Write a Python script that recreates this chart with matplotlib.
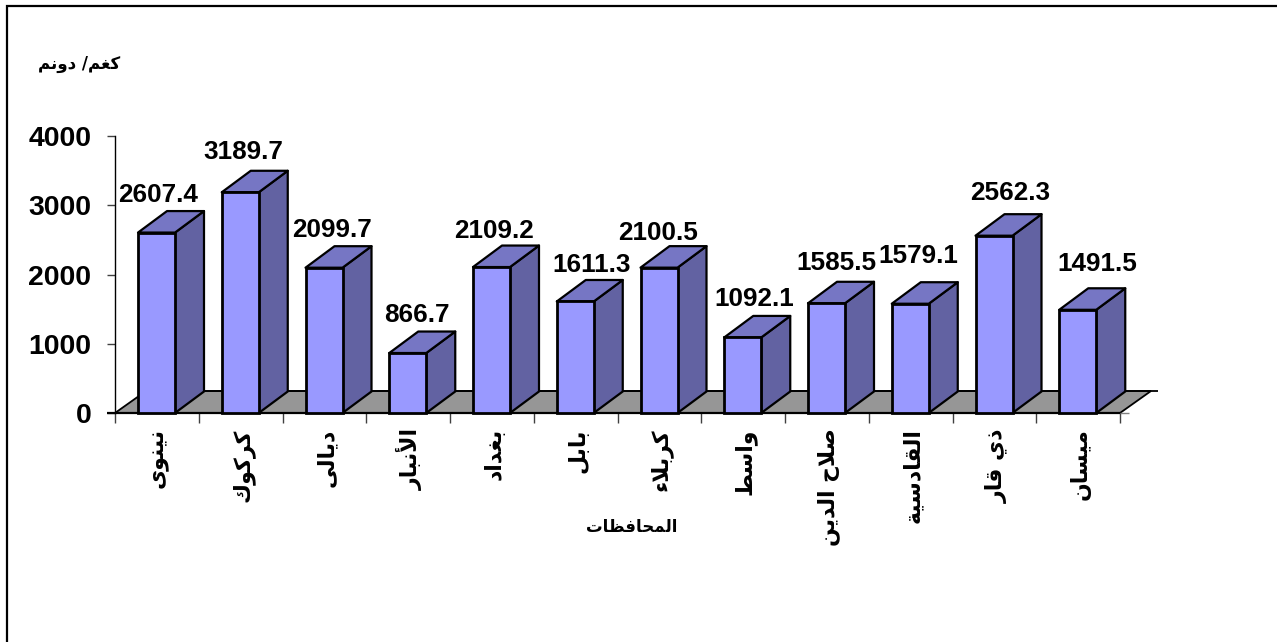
import matplotlib
matplotlib.use("Agg")
import matplotlib.pyplot as plt
from matplotlib.patches import Polygon, Rectangle

# ---- data ----
provinces = ["نينوى", "كركوك", "ديالى", "الأنبار", "بغداد", "بابل",
             "كربلاء", "واسط", "صلاح الدين", "القادسية", "ذي قار", "ميسان"]
yields = [2607.4, 3189.7, 2099.7, 866.7, 2109.2, 1611.3,
          2100.5, 1092.1, 1585.5, 1579.1, 2562.3, 1491.5]
y_ticks = [0, 1000, 2000, 3000, 4000]
unit_label = "كغم/ دونم"
x_title = "المحافظات"

# hand placement of the data labels relative to each bar (px)
label_dx = [2, 3, 8, 9, 3, 16, -1, 11, 10, 8, 16, 20]
label_dy = [38, 40, 38, 38, 36, 36.5, 35, 38, 40, 48, 43, 46]

# ---- Arabic shaping (matplotlib has no bidi / joining) ----
FORMS = {'ء': (0xFE80, 1), 'آ': (0xFE81, 2), 'أ': (0xFE83, 2), 'إ': (0xFE87, 2),
         'ا': (0xFE8D, 2), 'ب': (0xFE8F, 4), 'ة': (0xFE93, 2), 'ت': (0xFE95, 4),
         'ث': (0xFE99, 4), 'ج': (0xFE9D, 4), 'ح': (0xFEA1, 4), 'خ': (0xFEA5, 4),
         'د': (0xFEA9, 2), 'ذ': (0xFEAB, 2), 'ر': (0xFEAD, 2), 'ز': (0xFEAF, 2),
         'س': (0xFEB1, 4), 'ش': (0xFEB5, 4), 'ص': (0xFEB9, 4), 'ض': (0xFEBD, 4),
         'ط': (0xFEC1, 4), 'ظ': (0xFEC5, 4), 'ع': (0xFEC9, 4), 'غ': (0xFECD, 4),
         'ف': (0xFED1, 4), 'ق': (0xFED5, 4), 'ك': (0xFED9, 4), 'ل': (0xFEDD, 4),
         'م': (0xFEE1, 4), 'ن': (0xFEE5, 4), 'ه': (0xFEE9, 4), 'و': (0xFEED, 2),
         'ى': (0xFEEF, 2), 'ي': (0xFEF1, 4)}
LAM_ALEF = {'ا': 0xFEFB, 'أ': 0xFEF7, 'إ': 0xFEF9, 'آ': 0xFEF5}


def shape(text):
    out = []
    i = 0
    prev_joins = False
    while i < len(text):
        c = text[i]
        if c not in FORMS:
            out.append(c)
            prev_joins = False
            i += 1
            continue
        if c == 'ل' and i + 1 < len(text) and text[i + 1] in LAM_ALEF:
            out.append(chr(LAM_ALEF[text[i + 1]] + (1 if prev_joins else 0)))
            prev_joins = False
            i += 2
            continue
        base, n = FORMS[c]
        nxt = text[i + 1] if i + 1 < len(text) else ''
        next_joins = n == 4 and nxt in FORMS
        if n == 1:
            g = base
        elif n == 2:
            g = base + (1 if prev_joins else 0)
        elif prev_joins and next_joins:
            g = base + 3
        elif prev_joins:
            g = base + 1
        elif next_joins:
            g = base + 2
        else:
            g = base
        out.append(chr(g))
        prev_joins = n == 4
        i += 1
    return ''.join(reversed(out))


# ---- layout ----
W, H = 1277, 642
X0, X1, Y0, Y4 = 115, 1120, 413, 136.2
fig = plt.figure(figsize=(W / 100, H / 100), dpi=100, facecolor='white')
ax = fig.add_axes([X0 / W, 1 - Y0 / H, (X1 - X0) / W, (Y0 - Y4) / H])
ax.set_xlim(0, len(provinces))
ax.set_ylim(0, 4000)
ax.patch.set_visible(False)
for s in ('top', 'right', 'bottom'):
    ax.spines[s].set_visible(False)
ax.spines['left'].set_linewidth(1.0)

cat_px = (X1 - X0) / len(provinces)
val_px = (Y0 - Y4) / 4000
bar_l, bar_w = 23 / cat_px, 37 / cat_px
dep_x, dep_y = 29 / cat_px, 21.5 / val_px
floor_x, floor_y = 31 / cat_px, 22 / val_px

FRONT, SIDE, TOP, FLOOR = '#9999FF', '#6262A2', '#7676C4', '#969696'
LW = 1.6

# floor
ax.add_patch(Polygon([(0, 0), (12, 0), (12 + floor_x, floor_y), (floor_x, floor_y)],
                     closed=True, fc=FLOOR, ec='black', lw=1.3, clip_on=False, zorder=1))
ax.plot([floor_x, 12 + 38 / cat_px], [floor_y, floor_y], color='black', lw=1.3,
        clip_on=False, zorder=1, solid_capstyle='butt')
ax.plot([12, 12 + 9 / cat_px], [0, 0], color='#808080', lw=1.0, clip_on=False, zorder=1,
        solid_capstyle='butt')
ax.plot([-8 / cat_px, 12], [0, 0], color='black', lw=1.6, clip_on=False, zorder=2,
        solid_capstyle='butt')

# bars
for i, v in enumerate(yields):
    l = i + bar_l
    r = l + bar_w
    ax.add_patch(Polygon([(r, 0), (r + dep_x, dep_y), (r + dep_x, v + dep_y), (r, v)],
                         closed=True, fc=SIDE, ec='black', lw=LW, joinstyle='round', zorder=3, clip_on=False))
    ax.add_patch(Polygon([(l, v), (r, v), (r + dep_x, v + dep_y), (l + dep_x, v + dep_y)],
                         closed=True, fc=TOP, ec='black', lw=LW, joinstyle='round', zorder=3, clip_on=False))
    ax.add_patch(Rectangle((l, 0), bar_w, v, fc=FRONT, ec='black', lw=LW + 0.4, zorder=4, clip_on=False))
    ax.annotate(f"{v:.1f}", xy=(l + bar_w / 2, v),
                xytext=(label_dx[i] * 0.72, label_dy[i] * 0.72), textcoords='offset points',
                ha='center', va='center', fontsize=18.8, fontweight='bold',
                family='Liberation Sans', zorder=6, annotation_clip=False)

# axes
ax.set_yticks(y_ticks)
ax.set_yticklabels([str(t) for t in y_ticks], fontsize=20.4, fontweight='bold',
                   family='Liberation Sans')
ax.tick_params(axis='y', length=6, width=1.0, pad=11, color='#404040')
ax.set_xticks(range(len(provinces) + 1))
ax.set_xticklabels([''] * (len(provinces) + 1))
ax.tick_params(axis='x', length=7, width=1.0, color='#404040')

for i, name in enumerate(provinces):
    ax.annotate(shape(name), xy=(i + 0.5, 0), xytext=(1.5, -11), textcoords='offset points',
                rotation=90, ha='center', va='top', fontsize=15.8, fontweight='bold',
                family='DejaVu Sans', annotation_clip=False)

fig.text(632 / W, 1 - 527 / H, shape(x_title), ha='center', va='center',
         fontsize=12, fontweight='bold', family='DejaVu Sans')
fig.text(120 / W, 1 - 64 / H, shape(unit_label), ha='right', va='center',
         fontsize=12, fontweight='bold', family='DejaVu Sans')

# chart-area border
fig.add_artist(Rectangle((7 / W, -0.01), 1.1, 1 - 5.5 / H + 0.01, transform=fig.transFigure,
                         fc='none', ec='black', lw=1.6))

fig.savefig('out.png', dpi=100)
